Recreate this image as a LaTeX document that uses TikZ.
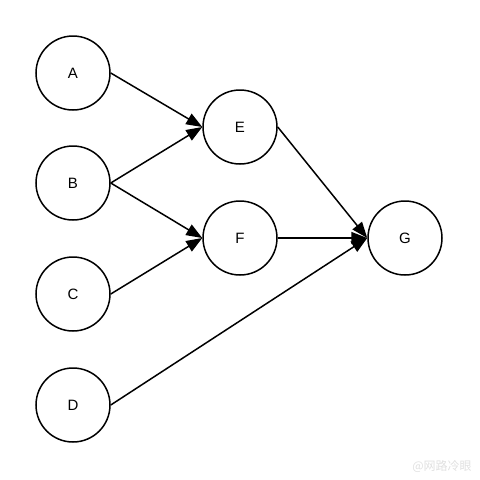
\documentclass[tikz,border=0pt]{standalone}
\usepackage{fontspec}
\setmainfont{Liberation Sans}
\newfontfamily\cjkfont{Noto Sans CJK SC}
\usetikzlibrary{arrows.meta}
\begin{document}
\begin{tikzpicture}[x=1pt,y=-1pt,
  vert/.style={circle,draw=black,line width=1.5pt,minimum size=74pt,inner sep=0pt,font=\fontsize{15}{17}\selectfont},
  edge/.style={line width=1.5pt,-{Triangle[length=16pt,width=12pt]}}]
\useasboundingbox (0,0) rectangle (480,480);
\node[vert] (A) at (73,73) {A};
\node[vert] (B) at (73,183) {B};
\node[vert] (C) at (73,294) {C};
\node[vert] (D) at (73,405) {D};
\node[vert] (E) at (240,127) {E};
\node[vert] (F) at (240,238) {F};
\node[vert] (G) at (405,238) {G};
\draw[edge] (A.east) -- (E.west);
\draw[edge] (B.east) -- (E.west);
\draw[edge] (B.east) -- (F.west);
\draw[edge] (C.east) -- (F.west);
\draw[edge] (D.east) -- (G.west);
\draw[edge] (E.east) -- (G.west);
\draw[edge] (F.east) -- (G.west);
\node[text=black!12,font=\cjkfont\fontsize{12}{13}\selectfont] (wm) at (442,466) {@网路冷眼};
\end{tikzpicture}
\end{document}
